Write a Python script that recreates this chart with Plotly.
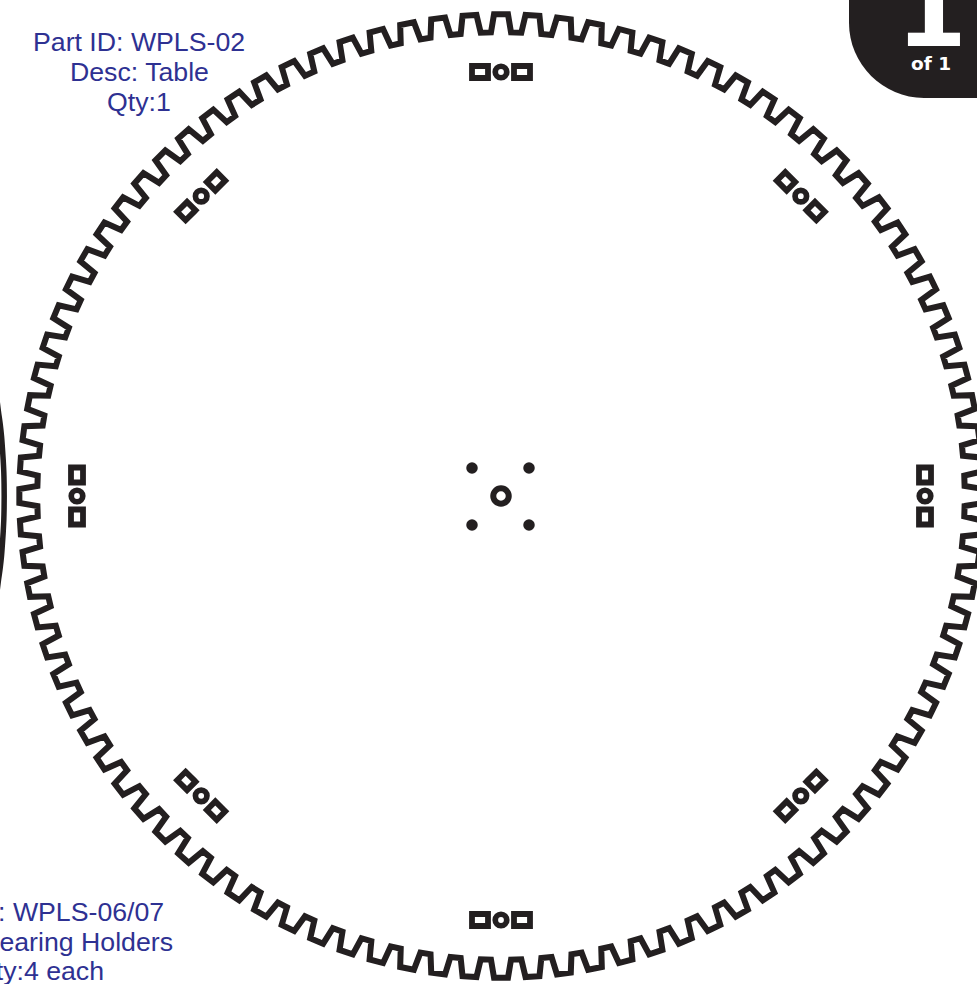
import math
import plotly.graph_objects as go

INK = "#231f20"
BLUE = "#2e3192"

# Gear rim: one entry per tooth (degrees), and the profile repeated at each tooth
tooth_angles = [
    0.00, 3.75, 7.50, 11.25, 15.00, 18.75, 22.50, 26.25, 30.00, 33.75, 37.50, 41.25,
    45.00, 48.75, 52.50, 56.25, 60.00, 63.75, 67.50, 71.25, 75.00, 78.75, 82.50, 86.25,
    90.00, 93.75, 97.50, 101.25, 105.00, 108.75, 112.50, 116.25, 120.00, 123.75, 127.50, 131.25,
    135.00, 138.75, 142.50, 146.25, 150.00, 153.75, 157.50, 161.25, 165.00, 168.75, 172.50, 176.25,
    180.00, 183.75, 187.50, 191.25, 195.00, 198.75, 202.50, 206.25, 210.00, 213.75, 217.50, 221.25,
    225.00, 228.75, 232.50, 236.25, 240.00, 243.75, 247.50, 251.25, 255.00, 258.75, 262.50, 266.25,
    270.00, 273.75, 277.50, 281.25, 285.00, 288.75, 292.50, 296.25, 300.00, 303.75, 307.50, 311.25,
    315.00, 318.75, 322.50, 326.25, 330.00, 333.75, 337.50, 341.25, 345.00, 348.75, 352.50, 356.25,
]
tooth_offsets = [-1.24, -0.83, 0.83, 1.24]
tooth_radii = [463.7, 481.7, 481.7, 463.7]

# Bearing-holder groups around the table
group_angles = [0, 45, 90, 135, 180, 225, 270, 315]
group_tangential = [15, 14, 16, 14, 15, 14, 16, 14]
group_radial = [12, 12, 12, 12, 12, 12, 12, 12]
group_radius = 424
slot_offset = 21

# Centre hole and four screw holes
centre_x = [0]
centre_y = [0]
screw_x = [-29, 28, -29, 28]
screw_y = [28, 28, -29, -29]

# Neighbouring part's edge at the left of the sheet
arc_x = [-504.0, -502.5, -500.8, -499.5, -498.6, -497.8, -497.2, -496.9, -496.8,
         -496.9, -497.2, -497.8, -498.6, -499.5, -500.8, -502.5, -504.0]
arc_y = [96, 84, 72, 60, 48, 36, 24, 12, 0, -12, -24, -36, -48, -60, -72, -84, -96]

table_label = ["Part ID: WPLS-02", "Desc: Table", "Qty:1"]
table_label_y = [454, 424, 394]
holder_label = ["Part ID: WPLS-06/07", "Desc: Bearing Holders", "Qty:4 each"]
holder_label_y = [-416, -446, -475]

page_number = "1"
page_caption = "of 1"


def polar(radius, angle):
    a = math.radians(angle)
    return radius * math.cos(a), radius * math.sin(a)


fig = go.Figure()

# Gear outline
gx, gy = [], []
for t in tooth_angles:
    for off, rad in zip(tooth_offsets, tooth_radii):
        x, y = polar(rad, t + off)
        gx.append(x)
        gy.append(y)
gx += gx[:2]
gy += gy[:2]
fig.add_trace(go.Scatter(x=gx, y=gy, mode="lines", line=dict(color=INK, width=6), showlegend=False, hoverinfo="skip"))

# Holder groups: two rectangular slots and a ring
ring_x, ring_y = [], []
for ang, tl, rd in zip(group_angles, group_tangential, group_radial):
    cx, cy = polar(group_radius, ang)
    ring_x.append(cx)
    ring_y.append(cy)
    ux, uy = math.cos(math.radians(ang)), math.sin(math.radians(ang))
    vx, vy = -uy, ux
    for side in (-1, 1):
        sx, sy = cx + side * slot_offset * vx, cy + side * slot_offset * vy
        corners = [(-1, -1), (-1, 1), (1, 1), (1, -1), (-1, -1), (-1, 1)]
        px = [sx + a * rd / 2 * ux + b * tl / 2 * vx for a, b in corners]
        py = [sy + a * rd / 2 * uy + b * tl / 2 * vy for a, b in corners]
        fig.add_trace(go.Scatter(x=px, y=py, mode="lines", line=dict(color=INK, width=5.8), showlegend=False, hoverinfo="skip"))

fig.add_trace(go.Scatter(
    x=ring_x, y=ring_y, mode="markers",
    marker=dict(symbol="circle", size=11.5, color="white", line=dict(color=INK, width=5.7)),
    showlegend=False, hoverinfo="skip"))
fig.add_trace(go.Scatter(
    x=centre_x, y=centre_y, mode="markers",
    marker=dict(symbol="circle", size=15.5, color="white", line=dict(color=INK, width=6)),
    showlegend=False, hoverinfo="skip"))
fig.add_trace(go.Scatter(
    x=screw_x, y=screw_y, mode="markers",
    marker=dict(symbol="circle", size=11.5, color=INK, line=dict(width=0)),
    showlegend=False, hoverinfo="skip"))
fig.add_trace(go.Scatter(
    x=arc_x, y=arc_y, mode="lines", line=dict(color=INK, width=5.5, shape="spline"),
    showlegend=False, hoverinfo="skip"))

# Page badge, top-right corner
badge = "M 348 500 L 348 473 C 348 432 382 398 423 398 L 480 398 L 480 500 Z"
fig.add_shape(type="path", path=badge, xref="x", yref="y", fillcolor=INK, line=dict(width=0), layer="above")

annotations = []
for txt, y in zip(table_label, table_label_y):
    annotations.append(dict(x=-362, y=y, text=txt, xref="x", yref="y", showarrow=False,
                            xanchor="center", yanchor="middle",
                            font=dict(family="Liberation Sans", size=26.7, color=BLUE)))
for txt, y in zip(holder_label, holder_label_y):
    annotations.append(dict(x=-461.5, y=y, text=txt, xref="x", yref="y", showarrow=False,
                            xanchor="center", yanchor="middle",
                            font=dict(family="Liberation Sans", size=26.7, color=BLUE)))
annotations.append(dict(x=430, y=424, text="<b>%s</b>" % page_number, xref="x", yref="y", showarrow=False,
                        xanchor="center", yanchor="bottom",
                        font=dict(family="DejaVu Sans", size=102, color="white")))
annotations.append(dict(x=429.5, y=433, text="<b>%s</b>" % page_caption, xref="x", yref="y", showarrow=False,
                        xanchor="center", yanchor="middle",
                        font=dict(family="DejaVu Sans", size=18.5, color="white")))

fig.update_layout(
    width=977, height=984, margin=dict(l=0, r=0, t=0, b=0),
    paper_bgcolor="white", plot_bgcolor="white",
    showlegend=False, annotations=annotations,
    xaxis=dict(range=[-501, 476], visible=False, fixedrange=True),
    yaxis=dict(range=[-488, 496], visible=False, fixedrange=True),
)

fig.write_html("out.html", config=dict(displayModeBar=False),
               post_script="document.body.style.margin='0';document.documentElement.style.overflow='hidden';")
